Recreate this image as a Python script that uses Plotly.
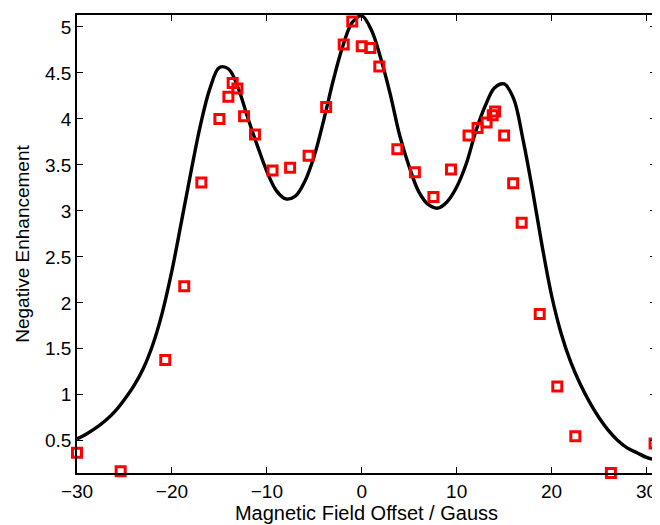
import plotly.graph_objects as go

# measured points (Gauss offset, negative enhancement)
field_pts = [-30.0, -25.4, -20.7, -18.7, -16.9, -15.0, -14.05, -13.6, -13.1, -12.4,
             -11.25, -9.4, -7.55, -5.6, -3.75, -1.9, -1.0, 0.0, 0.9, 1.85,
             3.75, 5.6, 7.55, 9.4, 11.25, 12.2, 13.15, 13.8, 14.05, 15.0,
             15.95, 16.85, 18.75, 20.6, 22.5, 26.25, 30.85]
enh_pts = [0.37, 0.17, 1.38, 2.18, 3.31, 4.0, 4.24, 4.39, 4.33, 4.03,
           3.83, 3.44, 3.47, 3.6, 4.13, 4.81, 5.06, 4.79, 4.77, 4.57,
           3.67, 3.42, 3.15, 3.45, 3.82, 3.9, 3.96, 4.04, 4.08, 3.82,
           3.3, 2.87, 1.88, 1.09, 0.55, 0.15, 0.47]

# fitted curve at each gauss
fit_x = list(range(-30, 32))
fit_y = [0.52, 0.575, 0.64, 0.72, 0.82, 0.95, 1.10, 1.29, 1.55, 1.90,
         2.35, 2.88, 3.42, 3.93, 4.33, 4.56, 4.54, 4.33, 4.01, 3.71,
         3.43, 3.22, 3.13, 3.16, 3.32, 3.60, 3.99, 4.42, 4.79, 5.05,
         5.12, 4.97, 4.66, 4.27, 3.82, 3.48, 3.21, 3.07, 3.03, 3.10,
         3.26, 3.51, 3.86, 4.14, 4.34, 4.38, 4.22, 3.77, 3.22, 2.62,
         2.08, 1.67, 1.36, 1.12, 0.92, 0.75, 0.61, 0.50, 0.42, 0.37,
         0.32, 0.29]

y_ticks = [0.5, 1, 1.5, 2, 2.5, 3, 3.5, 4, 4.5, 5]
y_labels = ['0.5', '1', '1.5', '2', '2.5', '3', '3.5', '4', '4.5', '5']
x_ticks = [-30, -20, -10, 0, 10, 20, 30]

fig = go.Figure()

fig.add_trace(go.Scatter(
    x=fit_x, y=fit_y, mode='lines',
    line=dict(color='black', width=3.4, shape='spline', smoothing=1.0),
    showlegend=False
))

fig.add_trace(go.Scatter(
    x=field_pts, y=enh_pts, mode='markers',
    marker=dict(symbol='square-open', size=9, color='#ff0000',
                line=dict(color='#ff0000', width=3)),
    cliponaxis=False, showlegend=False
))

# the page body has an 8px margin, so the figure is a bit smaller than the window
fig.update_layout(
    width=652, height=517,
    margin=dict(l=69, r=2, t=7, b=52),
    plot_bgcolor='white', paper_bgcolor='white',
    font=dict(family='Liberation Sans, Arial, sans-serif', size=19, color='black'),
    xaxis=dict(
        range=[-30, 31], tickvals=x_ticks,
        ticks='inside', ticklen=6, tickcolor='black',
        showline=True, linecolor='black', linewidth=1.5, mirror='allticks',
        showgrid=False, zeroline=False,
        title=dict(text='Magnetic Field Offset / Gauss', standoff=2,
                   font=dict(size=20)),
        tickfont=dict(size=19)
    ),
    yaxis=dict(
        range=[0.15, 5.13], tickvals=y_ticks, ticktext=y_labels,
        ticks='inside', ticklen=6, tickcolor='black',
        showline=True, linecolor='black', linewidth=1.5, mirror='allticks',
        showgrid=False, zeroline=False,
        title=dict(text='Negative Enhancement', standoff=10,
                   font=dict(size=19)),
        tickfont=dict(size=19)
    )
)

fig.write_html("out.html")
